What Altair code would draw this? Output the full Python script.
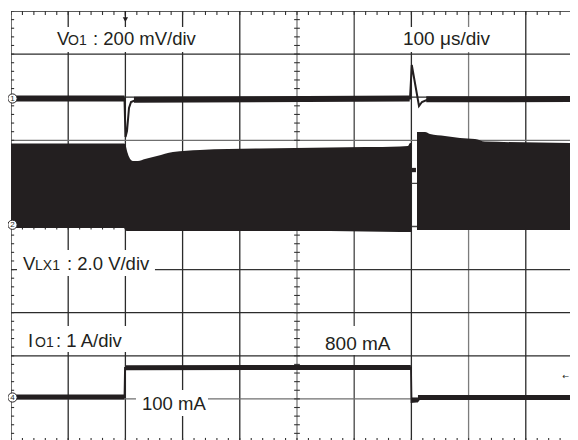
import altair as alt
import pandas as pd
import numpy as np

# ---- units: oscilloscope divisions; x from left border, y from top border ----
X_MAX = 9.773
Y_MAX = 9.954
INK = "#231f20"

# graticule (line position, shade as scanned)
GRID_X = [0, 1, 2, 3, 4, 5, 6, 7, 8, 9]
GRID_X_SHADE = ["#222", "#2b2b2b", "#2b2b2b", "#2b2b2b", "#2b2b2b", "#7c7c7c", "#444", "#2b2b2b", "#7c7c7c", "#2b2b2b"]
GRID_Y = [0, 1, 2, 3, 4, 5, 6, 7, 8, 9]
GRID_Y_SHADE = ["#222", "#2b2b2b", "#2b2b2b", "#6f6f6f", "#444", "#444", "#333", "#2b2b2b", "#2b2b2b", "#6f6f6f"]

# CH1 (Vo1) trace: full trace + thick (noisy) flat segments
ch1_x = [0, 1.984, 2.002, 2.028, 2.063, 2.098, 2.185, 2.430, 5.052, 6.976, 7.007, 7.133, 7.185, 7.290, 9.913]
ch1_y = [2.030, 2.030, 2.923, 2.784, 2.251, 2.111, 2.065, 2.042, 2.030, 2.030, 1.253, 2.204, 2.111, 2.053, 2.042]
ch1_flat_x = [0, 1.984, 2.15, 6.97, 7.26, 9.913]
ch1_flat_y = [2.030, 2.030, 2.060, 2.030, 2.050, 2.042]
ch1_flat_seg = ["a", "a", "b", "b", "c", "c"]

# CH2 (VLX1) switching envelope: top and bottom edges
ch2_x = [0, 1.976, 2.000, 2.025, 2.063, 2.133, 2.220, 2.343, 2.552, 2.832, 3.304, 4.353, 5.577, 6.801, 6.941, 6.976, 7.002,
         7.098, 7.238, 7.325, 7.587, 7.850, 8.112, 8.287, 9.913]
ch2_top = [3.074, 3.074, 3.100, 3.230, 3.380, 3.480, 3.480, 3.434, 3.364, 3.271, 3.225, 3.190, 3.167, 3.144, 3.132, 3.063, 3.063,
           2.807, 2.807, 2.854, 2.900, 2.947, 2.970, 3.028, 3.063]
ch2_bot = [5.035, 5.035, 5.081, 5.104, 5.104, 5.104, 5.104, 5.104, 5.104, 5.104, 5.104, 5.104, 5.104, 5.128, 5.128, 5.128, 5.128,
           5.081, 5.081, 5.081, 5.081, 5.081, 5.081, 5.081, 5.081]
ch2_seg = ["L"] * 17 + ["R"] * 8
notch = {"x": 7.01, "x2": 7.08, "y": 3.64, "y2": 3.74}

# CH4 (Io1) load current
ch4_x = [0, 1.984, 1.993, 6.993, 7.002, 7.115, 7.150, 9.913]
ch4_y = [8.956, 8.956, 8.283, 8.271, 9.072, 9.049, 8.979, 8.968]
ch4_flat_x = [0, 1.984, 2.005, 6.990, 7.010, 7.115, 7.115, 9.913]
ch4_flat_y = [8.956, 8.956, 8.276, 8.271, 9.025, 9.025, 8.968, 8.968]
ch4_flat_seg = ["a", "a", "b", "b", "c", "c", "d", "d"]

# labels
label_text = ["V", "O1", ": 200 mV/div", "100 μs/div", "V", "LX1", ": 2.0 V/div",
              "I", "O1", ": 1 A/div", "800 mA", "100 mA"]
label_x = [0.804, 0.997, 1.434, 6.853, 0.210, 0.420, 0.979, 0.297, 0.420, 0.787, 5.49, 2.29]
label_y = [0.789, 0.789, 0.789, 0.789, 6.01, 6.01, 6.01, 7.80, 7.80, 7.80, 7.87, 9.26]
label_size = [18.5, 14, 18.5, 19, 18.5, 14, 18.5, 18.5, 14, 18.5, 19, 18.5]

# white label backgrounds
box_x = [0.717, 6.766, 0.105, 0.245, 5.402, 2.185]
box_x2 = [3.339, 8.462, 2.517, 2.045, 6.748, 3.444]
box_y = [0.371, 0.371, 5.545, 7.309, 7.309, 8.794]
box_y2 = [0.951, 0.951, 6.148, 7.912, 7.981, 9.397]

# channel markers
mark_digit = ["1", "2", "4"]
mark_x = [0.026, 0.026, 0.026]
mark_y = [2.030, 4.960, 8.968]

W, H = 559, 429
xs = alt.Scale(domain=[0, X_MAX], nice=False, zero=False)
ys = alt.Scale(domain=[0, Y_MAX], nice=False, zero=False, reverse=True)


def X(f="x"):
    return alt.X(f"{f}:Q", scale=xs, axis=None)


def Y(f="y"):
    return alt.Y(f"{f}:Q", scale=ys, axis=None)


# grid lines
grid_rows = ([dict(x=g, x2=g, y=0, y2=10.5, c=c) for g, c in zip(GRID_X, GRID_X_SHADE)]
             + [dict(x=0, x2=10.5, y=g, y2=g, c=c) for g, c in zip(GRID_Y, GRID_Y_SHADE)])
grid = alt.Chart(pd.DataFrame(grid_rows)).mark_rule(strokeWidth=1.3, clip=True).encode(
    x=X(), x2="x2:Q", y=Y(), y2="y2:Q", color=alt.Color("c:N", scale=None, legend=None))

# minor ticks
tick_rows = []
for t in np.round(np.arange(0, 10.01, 0.2), 3):
    tick_rows.append(dict(x=t, x2=t, y=0, y2=0.093))          # top
    tick_rows.append(dict(x=t, x2=t, y=9.905, y2=10.0))       # bottom
    tick_rows.append(dict(x=t, x2=t, y=4.93, y2=5.07))        # centre horizontal
for s in np.round(np.arange(0, 10.01, 0.2), 3):
    tick_rows.append(dict(x=0, x2=0.055, y=s, y2=s))          # left
    tick_rows.append(dict(x=4.95, x2=5.05, y=s, y2=s))        # centre vertical
ticks = alt.Chart(pd.DataFrame(tick_rows)).mark_rule(color="#333", strokeWidth=1.1, clip=True).encode(
    x=X(), x2="x2:Q", y=Y(), y2="y2:Q")

# CH2 band
ch2_df = pd.DataFrame({"x": ch2_x, "top": ch2_top, "bot": ch2_bot, "seg": ch2_seg})
ch2 = alt.Chart(ch2_df).mark_area(color=INK, opacity=1, clip=True, interpolate="monotone").encode(
    x=X(), y=Y("top"), y2="bot:Q", detail="seg:N")
notch_m = alt.Chart(pd.DataFrame([notch])).mark_rect(color=INK, clip=True).encode(
    x=X(), x2="x2:Q", y=Y(), y2="y2:Q")

# CH1
ch1_df = pd.DataFrame({"x": ch1_x, "y": ch1_y, "i": range(len(ch1_x))})
ch1 = alt.Chart(ch1_df).mark_line(color=INK, strokeWidth=2, clip=True).encode(
    x=X(), y=Y(), order="i:Q")
ch1f_df = pd.DataFrame({"x": ch1_flat_x, "y": ch1_flat_y, "seg": ch1_flat_seg, "i": range(len(ch1_flat_x))})
ch1f = alt.Chart(ch1f_df).mark_line(color=INK, strokeWidth=6, clip=True).encode(
    x=X(), y=Y(), detail="seg:N", order="i:Q")

# CH4
ch4_df = pd.DataFrame({"x": ch4_x, "y": ch4_y, "i": range(len(ch4_x))})
ch4 = alt.Chart(ch4_df).mark_line(color=INK, strokeWidth=1.8, clip=True).encode(
    x=X(), y=Y(), order="i:Q")
ch4f_df = pd.DataFrame({"x": ch4_flat_x, "y": ch4_flat_y, "seg": ch4_flat_seg, "i": range(len(ch4_flat_x))})
ch4f = alt.Chart(ch4f_df).mark_line(color=INK, strokeWidth=5, clip=True).encode(
    x=X(), y=Y(), detail="seg:N", order="i:Q")

# label boxes and labels
boxes = alt.Chart(pd.DataFrame({"x": box_x, "x2": box_x2, "y": box_y, "y2": box_y2})).mark_rect(
    color="white", opacity=1).encode(x=X(), x2="x2:Q", y=Y(), y2="y2:Q")
labels = alt.Chart(pd.DataFrame({"t": label_text, "x": label_x, "y": label_y, "s": label_size})).mark_text(
    align="left", baseline="alphabetic", font="Liberation Sans", color=INK).encode(
    x=X(), y=Y(), text="t:N", size=alt.Size("s:Q", scale=None, legend=None))

# channel markers
mk_df = pd.DataFrame({"t": mark_digit, "x": mark_x, "y": mark_y})
mk_c = alt.Chart(mk_df).mark_point(shape="circle", size=85, filled=True, fill="white", stroke=INK,
                                   strokeWidth=1, opacity=1).encode(x=X(), y=Y())
mk_t = alt.Chart(mk_df).mark_text(fontSize=8, font="Liberation Sans", color=INK, dy=0.5).encode(
    x=X(), y=Y(), text="t:N")

# trigger position marker and level marker
trig = alt.Chart(pd.DataFrame({"x": [2.0], "y": [0.2]})).mark_point(
    shape="triangle-down", size=28, filled=True, color=INK, opacity=1).encode(x=X(), y=Y())
trig_l = alt.Chart(pd.DataFrame({"x": [2.0], "y": [0.0], "y2": [0.12]})).mark_rule(
    color=INK, strokeWidth=1.2).encode(x=X(), y=Y(), y2="y2:Q")
lvl = alt.Chart(pd.DataFrame({"x": [9.70], "y": [8.49], "t": ["←"]})).mark_text(
    fontSize=8, color=INK, font="DejaVu Sans").encode(x=X(), y=Y(), text="t:N")

chart = alt.layer(grid, ticks, ch2, notch_m, ch1f, ch1, ch4f, ch4, boxes, labels,
                  mk_c, mk_t, trig, trig_l, lvl).properties(
    width=W, height=H, background="white",
    padding={"left": 3, "top": 3, "right": 0, "bottom": 0},
    autosize=alt.AutoSizeParams(type="none"),
).configure_view(stroke=None)

chart.save("out.html", embed_options={"renderer": "svg", "actions": False})
